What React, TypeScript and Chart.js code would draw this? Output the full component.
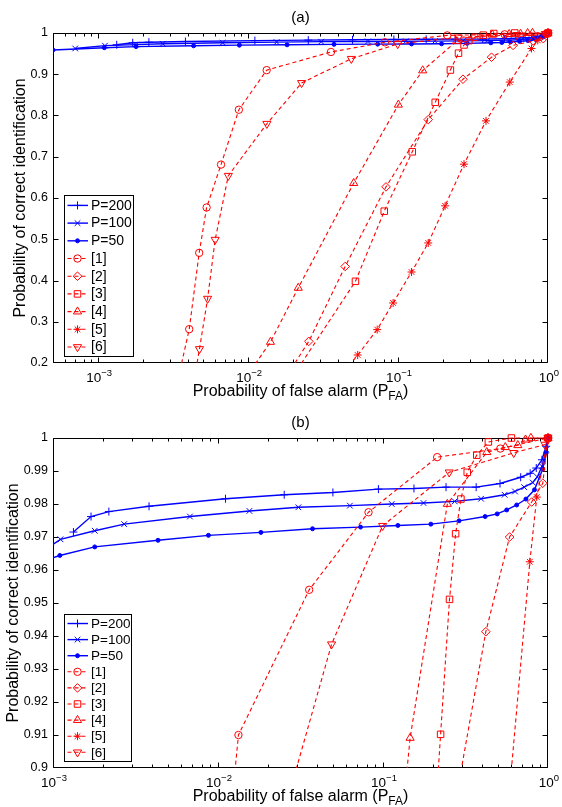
import React, { useEffect, useRef } from 'react';
import { Chart, registerables } from 'chart.js';
import { drawPoint } from 'chart.js/helpers';

Chart.register(...registerables);

const FONT = '"Liberation Sans", Arial, Helvetica, sans-serif';
const BLUE = '#0000ff';
const RED = '#ff0000';

// ---------------- data (P_FA on x, P_correct on y) ----------------
const P200_X = [0.00133, 0.0017, 0.00218, 0.00382, 0.0111, 0.0252, 0.0497, 0.0938, 0.154, 0.241, 0.367, 0.512, 0.683, 0.78, 0.849, 0.919, 0.975, 1];
const P200_Y = [0.9715, 0.9762, 0.9777, 0.9793, 0.9816, 0.9828, 0.9835, 0.9845, 0.9847, 0.9851, 0.9851, 0.9862, 0.9881, 0.9893, 0.9909, 0.9934, 0.9975, 1];

const P100_X = [0.000703, 0.00111, 0.00179, 0.0027, 0.00676, 0.0155, 0.0307, 0.063, 0.113, 0.176, 0.272, 0.393, 0.546, 0.631, 0.718, 0.808, 0.861, 0.92, 0.975, 1];
const P100_Y = [0.9625, 0.9693, 0.9719, 0.9739, 0.9762, 0.9779, 0.979, 0.9795, 0.98, 0.9803, 0.9808, 0.9816, 0.9828, 0.9838, 0.9851, 0.9865, 0.9882, 0.9914, 0.9965, 1];

const P50_X = [0.0005, 0.0011, 0.00179, 0.00433, 0.00875, 0.0182, 0.0374, 0.0731, 0.123, 0.195, 0.289, 0.416, 0.492, 0.562, 0.646, 0.735, 0.828, 0.929, 0.975, 1];
const P50_Y = [0.9588, 0.9644, 0.967, 0.969, 0.9705, 0.9714, 0.9725, 0.973, 0.9735, 0.9739, 0.9749, 0.9762, 0.977, 0.9782, 0.9797, 0.9815, 0.9843, 0.9906, 0.9955, 1];

const R1_X = [0.00313, 0.00405, 0.00472, 0.00529, 0.0066, 0.00868, 0.0133, 0.0357, 0.0817, 0.213, 0.514, 1];
const R1_Y = [0.1, 0.282, 0.467, 0.577, 0.681, 0.814, 0.91, 0.954, 0.9775, 0.9942, 0.9968, 1];

const R2_X = [0.0137, 0.0254, 0.0444, 0.0831, 0.159, 0.271, 0.42, 0.585, 0.796, 0.93, 1];
const R2_Y = [0.1, 0.2525, 0.434, 0.627, 0.79, 0.888, 0.9413, 0.97, 0.9806, 0.9863, 1];

const R3_X = [0.015, 0.052, 0.0809, 0.1244, 0.177, 0.2234, 0.253, 0.2755, 0.2966, 0.324, 0.37, 0.435, 0.6, 1];
const R3_Y = [0.1, 0.398, 0.568, 0.712, 0.832, 0.9102, 0.9511, 0.971, 0.9815, 0.9896, 0.9948, 0.9988, 1, 1];

const R4_X = [0.0073, 0.0141, 0.0216, 0.0506, 0.1005, 0.146, 0.2455, 0.4256, 0.551, 0.656, 0.731, 0.788, 1];
const R4_Y = [0.1, 0.251, 0.382, 0.636, 0.826, 0.9091, 0.98, 0.9957, 0.9972, 0.9978, 0.9995, 1, 1];

const R5_X = [0.0294, 0.0538, 0.0726, 0.0927, 0.123, 0.159, 0.206, 0.2754, 0.386, 0.556, 0.776, 0.855, 1];
const R5_Y = [0.1, 0.2194, 0.281, 0.3455, 0.4206, 0.491, 0.581, 0.682, 0.787, 0.881, 0.9625, 0.9821, 1];

const R6_X = [0.0041, 0.00474, 0.00537, 0.00603, 0.00738, 0.01334, 0.02275, 0.0488, 0.0995, 0.252, 0.62, 0.96, 1];
const R6_Y = [0.1, 0.234, 0.356, 0.499, 0.654, 0.78, 0.879, 0.9375, 0.9734, 0.9896, 0.9955, 0.998, 1];

const SERIES_LABELS = ['P=200', 'P=100', 'P=50', '[1]', '[2]', '[3]', '[4]', '[5]', '[6]'];
const SERIES_X = [P200_X, P100_X, P50_X, R1_X, R2_X, R3_X, R4_X, R5_X, R6_X];
const SERIES_Y = [P200_Y, P100_Y, P50_Y, R1_Y, R2_Y, R3_Y, R4_Y, R5_Y, R6_Y];

const TITLE_A = '(a)';
const TITLE_B = '(b)';
const X_LABEL_MAIN = 'Probability of false alarm (P';
const X_LABEL_SUB = 'FA';
const X_LABEL_END = ')';
const Y_LABEL = 'Probability of correct identification';

// ---------------- styles ----------------
const STYLES = [
  { color: BLUE, dash: [], width: 1.4, pointStyle: 'cross', radius: 4, rotation: 0, filled: false, order: 2 },
  { color: BLUE, dash: [], width: 1.4, pointStyle: 'crossRot', radius: 4, rotation: 0, filled: false, order: 2 },
  { color: BLUE, dash: [], width: 1.4, pointStyle: 'circle', radius: 2, rotation: 0, filled: true, order: 2 },
  { color: RED, dash: [4, 3], width: 1.1, pointStyle: 'circle', radius: 3.7, rotation: 0, filled: false, order: 1 },
  { color: RED, dash: [4, 3], width: 1.1, pointStyle: 'rectRot', radius: 4.3, rotation: 0, filled: false, order: 1 },
  { color: RED, dash: [4, 3], width: 1.1, pointStyle: 'rect', radius: 4.6, rotation: 0, filled: false, order: 1 },
  { color: RED, dash: [4, 3], width: 1.1, pointStyle: 'triangle', radius: 4.7, rotation: 0, filled: false, order: 1 },
  { color: RED, dash: [4, 3], width: 1.1, pointStyle: 'star', radius: 4, rotation: 0, filled: false, order: 1 },
  { color: RED, dash: [4, 3], width: 1.1, pointStyle: 'triangle', radius: 4.7, rotation: 180, filled: false, order: 1 },
];

const CFG_A = { title: TITLE_A, height: 403, padTop: 33, xAxisH: 40, xMin: 0.0005, yMin: 0.2, yStep: 0.1, legendSp: 17.7, legendFont: 14, legendW: 69 };
const CFG_B = { title: TITLE_B, height: 404, padTop: 35, xAxisH: 39, xMin: 0.001, yMin: 0.9, yStep: 0.01, legendSp: 16.1, legendFont: 13.5, legendW: 67 };

function buildDatasets() {
  return SERIES_LABELS.map((label, i) => {
    const s = STYLES[i];
    return {
      label,
      data: SERIES_X[i].map((x, k) => ({ x, y: SERIES_Y[i][k] })),
      showLine: true,
      borderColor: s.color,
      backgroundColor: s.color,
      borderWidth: s.width,
      borderDash: s.dash,
      tension: 0,
      pointStyle: s.pointStyle,
      pointRadius: s.radius,
      pointHoverRadius: s.radius,
      pointRotation: s.rotation,
      pointBorderColor: s.color,
      pointBackgroundColor: s.filled ? s.color : 'rgba(0,0,0,0)',
      pointBorderWidth: 1,
      order: s.order,
      clip: { left: 0, top: 7, right: 7, bottom: 0 },
    };
  });
}

function makeDecor(cfg: any) {
  return {
    id: 'decor',
    beforeDatasetsDraw(chart: any) {
      const { ctx, chartArea: a } = chart;
      const xs = chart.scales.x;
      const ys = chart.scales.y;
      ctx.save();
      ctx.strokeStyle = '#000';
      ctx.lineWidth = 1;
      ctx.setLineDash([]);
      const L = Math.round(a.left) + 0.5;
      const R = Math.round(a.right) - 0.5;
      const T = Math.round(a.top) + 0.5;
      const B = Math.round(a.bottom) - 0.5;
      ctx.beginPath();
      ctx.rect(L, T, R - L, B - T);
      const dMin = Math.floor(Math.log10(cfg.xMin) + 1e-9);
      for (let d = dMin; d <= 0; d++) {
        for (let m = 1; m <= 9; m++) {
          const v = m * Math.pow(10, d);
          if (v < cfg.xMin * 0.999 || v > 1.001) continue;
          let px = Math.round(xs.getPixelForValue(v)) + 0.5;
          if (px > R) px = R;
          const len = m === 1 ? 5 : 3;
          ctx.moveTo(px, B); ctx.lineTo(px, B - len);
          ctx.moveTo(px, T); ctx.lineTo(px, T + len);
        }
      }
      ys.ticks.forEach((t: any) => {
        let py = Math.round(ys.getPixelForValue(t.value)) + 0.5;
        if (py < T) py = T;
        if (py > B) py = B;
        ctx.moveTo(L, py); ctx.lineTo(L + 5, py);
        ctx.moveTo(R, py); ctx.lineTo(R - 5, py);
      });
      ctx.stroke();
      ctx.restore();
    },
    afterDraw(chart: any) {
      const { ctx, chartArea: a } = chart;
      const xs = chart.scales.x;
      const ys = chart.scales.y;
      ctx.save();
      ctx.fillStyle = '#000';
      const cx = (a.left + a.right) / 2;

      // title
      ctx.font = `15px ${FONT}`;
      ctx.textAlign = 'center';
      ctx.textBaseline = 'alphabetic';
      ctx.fillText(cfg.title, cx, a.top - 11);

      // x tick labels 10^d
      const dMin = Math.ceil(Math.log10(cfg.xMin) - 1e-9);
      for (let d = dMin; d <= 0; d++) {
        const px = xs.getPixelForValue(Math.pow(10, d));
        const base = '10';
        const exp = d === 0 ? '0' : '\u2212' + String(-d);
        ctx.font = `13.5px ${FONT}`;
        const wb = ctx.measureText(base).width;
        ctx.font = `9.5px ${FONT}`;
        const we = ctx.measureText(exp).width;
        const x0 = px - (wb + we) / 2 + 1;
        ctx.textAlign = 'left';
        ctx.font = `13.5px ${FONT}`;
        ctx.fillText(base, x0, a.bottom + 18.5);
        ctx.font = `9.5px ${FONT}`;
        ctx.fillText(exp, x0 + wb, a.bottom + 12.5);
      }

      // x label with subscript
      ctx.font = `16px ${FONT}`;
      const w1 = ctx.measureText(X_LABEL_MAIN).width;
      const w3 = ctx.measureText(X_LABEL_END).width;
      ctx.font = `12px ${FONT}`;
      const w2 = ctx.measureText(X_LABEL_SUB).width;
      const lx0 = cx - (w1 + w2 + w3) / 2;
      const lyb = a.bottom + 33;
      ctx.textAlign = 'left';
      ctx.font = `16px ${FONT}`;
      ctx.fillText(X_LABEL_MAIN, lx0, lyb);
      ctx.font = `12px ${FONT}`;
      ctx.fillText(X_LABEL_SUB, lx0 + w1, lyb + 4);
      ctx.font = `16px ${FONT}`;
      ctx.fillText(X_LABEL_END, lx0 + w1 + w2, lyb);

      // y label
      ctx.font = `12.5px ${FONT}`;
      let maxW = 0;
      ys.ticks.forEach((t: any) => { maxW = Math.max(maxW, ctx.measureText(String(t.label)).width); });
      const ylx = a.left - 5 - maxW - 10.5;
      ctx.save();
      ctx.translate(ylx, (a.top + a.bottom) / 2);
      ctx.rotate(-Math.PI / 2);
      ctx.font = `16px ${FONT}`;
      ctx.textAlign = 'center';
      ctx.textBaseline = 'middle';
      ctx.fillText(Y_LABEL, 0, 0);
      ctx.restore();

      // legend (south-west, inside axes)
      const sp = cfg.legendSp;
      const lh = Math.round(8 * sp + 1.12 * sp);
      const lx = Math.round(a.left + 11) + 0.5;
      const lb = Math.round(a.bottom - 7) + 0.5;
      const ly = lb - lh;
      ctx.fillStyle = '#fff';
      ctx.fillRect(lx, ly, cfg.legendW, lh);
      ctx.strokeStyle = '#000';
      ctx.lineWidth = 1;
      ctx.setLineDash([]);
      ctx.strokeRect(lx, ly, cfg.legendW, lh);
      SERIES_LABELS.forEach((label, i) => {
        const s = STYLES[i];
        const y = ly + 0.56 * sp + i * sp;
        ctx.strokeStyle = s.color;
        ctx.lineWidth = s.width;
        ctx.setLineDash(s.dash);
        ctx.beginPath();
        ctx.moveTo(lx + 3, y);
        ctx.lineTo(lx + 23.5, y);
        ctx.stroke();
        ctx.setLineDash([]);
        ctx.lineWidth = 1;
        ctx.fillStyle = s.filled ? s.color : 'rgba(0,0,0,0)';
        drawPoint(ctx, { pointStyle: s.pointStyle, rotation: s.rotation, radius: s.radius, borderWidth: 1 }, lx + 13, y);
        ctx.fillStyle = '#000';
        ctx.font = `${cfg.legendFont}px ${FONT}`;
        ctx.textAlign = 'left';
        ctx.textBaseline = 'middle';
        ctx.fillText(label, lx + 26.5, y + 0.5);
      });
      ctx.restore();
    },
  };
}

function RocPlot({ cfg }: { cfg: any }) {
  const ref = useRef<HTMLCanvasElement | null>(null);
  useEffect(() => {
    if (!ref.current) return;
    const chart = new Chart(ref.current, {
      type: 'scatter',
      data: { datasets: buildDatasets() as any },
      options: {
        animation: false,
        responsive: false,
        events: [],
        layout: { padding: { left: 0, right: 14, top: cfg.padTop, bottom: 0 } },
        plugins: {
          legend: { display: false },
          tooltip: { enabled: false },
          title: { display: false },
        },
        scales: {
          x: {
            type: 'logarithmic',
            min: cfg.xMin,
            max: 1,
            bounds: 'data',
            grid: { display: false, drawTicks: false },
            border: { display: false },
            ticks: { display: false },
            afterFit: (s: any) => { s.height = cfg.xAxisH; },
          },
          y: {
            type: 'linear',
            min: cfg.yMin,
            max: 1,
            grid: { display: false, drawTicks: false },
            border: { display: false },
            ticks: {
              stepSize: cfg.yStep,
              padding: 5,
              color: '#000',
              autoSkip: false,
              font: { family: FONT, size: 12.5 },
              callback: (v: any) => String(parseFloat(Number(v).toFixed(2))),
            },
            afterFit: (s: any) => { s.width = 53; },
          },
        },
      } as any,
      plugins: [makeDecor(cfg)],
    });
    return () => chart.destroy();
  }, [cfg]);
  return (
    <canvas
      ref={ref}
      width={562}
      height={cfg.height}
      style={{ display: 'block', width: 562, height: cfg.height }}
    />
  );
}

export default function App() {
  return (
    <div style={{ position: 'absolute', left: 0, top: 0, width: 562, height: 807, background: '#fff' }}>
      <RocPlot cfg={CFG_A} />
      <RocPlot cfg={CFG_B} />
    </div>
  );
}
